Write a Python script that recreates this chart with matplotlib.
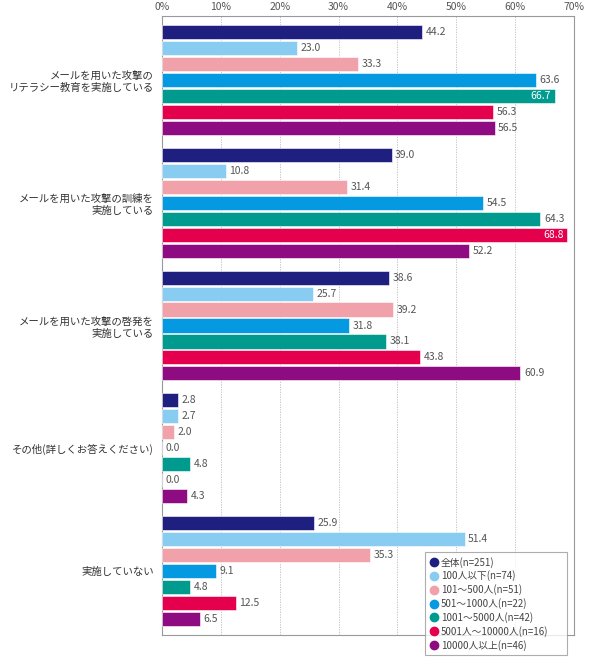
import matplotlib
matplotlib.use("Agg")
import matplotlib.pyplot as plt
from matplotlib.lines import Line2D

plt.rcParams['font.family'] = ['Noto Sans CJK JP', 'DejaVu Sans']

categories = [
    "メールを用いた攻撃の\nリテラシー教育を実施している",
    "メールを用いた攻撃の訓練を\n実施している",
    "メールを用いた攻撃の啓発を\n実施している",
    "その他(詳しくお答えください)",
    "実施していない",
]
series_names = [
    "全体(n=251)",
    "100人以下(n=74)",
    "101～500人(n=51)",
    "501～1000人(n=22)",
    "1001～5000人(n=42)",
    "5001人～10000人(n=16)",
    "10000人以上(n=46)",
]
values = [
    [44.2, 39.0, 38.6, 2.8, 25.9],
    [23.0, 10.8, 25.7, 2.7, 51.4],
    [33.3, 31.4, 39.2, 2.0, 35.3],
    [63.6, 54.5, 31.8, 0.0, 9.1],
    [66.7, 64.3, 38.1, 4.8, 4.8],
    [56.3, 68.8, 43.8, 0.0, 12.5],
    [56.5, 52.2, 60.9, 4.3, 6.5],
]
colors = ["#1f1f80", "#88cdf1", "#f1a1a9", "#0499e1", "#009a8e", "#e5004d", "#8f0b81"]
xticks = [0, 10, 20, 30, 40, 50, 60, 70]

fig = plt.figure(figsize=(5.9, 6.65), dpi=100)
ax = fig.add_axes([162/590, 1-635/665, (574-162)/590, (635-16)/665])

pitch = 7.6875
nser = len(series_names)
for j in range(nser):
    ys = [i*pitch + j for i in range(len(categories))]
    ax.barh(ys, values[j], height=0.88, color=colors[j], edgecolor='white', linewidth=0.4, zorder=3)
    for y, v in zip(ys, values[j]):
        if v > 65:
            ax.text(v - 0.6, y, f"{v:.1f}", ha='right', va='center', fontsize=7.5, color='white', zorder=4)
        else:
            ax.text(v + 0.6, y, f"{v:.1f}", ha='left', va='center', fontsize=7.5, color='#555555', zorder=4)

ax.set_xlim(0, 70)
ax.set_ylim(4*pitch + nser - 1 + 1, -1)
ax.set_xticks(xticks)
ax.set_xticklabels([f"{t}%" for t in xticks], fontsize=7.5, color='#555555')
ax.xaxis.tick_top()
ax.tick_params(axis='x', length=0, pad=3)
ax.set_yticks([i*pitch + 3 for i in range(len(categories))])
ax.set_yticklabels(categories, fontsize=7.5, color='#333333', linespacing=1.3)
ax.tick_params(axis='y', length=0, pad=6)
ax.grid(axis='x', linestyle=(0, (1.5, 1.5)), color='#bbbbbb', linewidth=0.6, zorder=0)
for s in ax.spines.values():
    s.set_color('#999999')
    s.set_linewidth(0.8)

handles = [Line2D([0], [0], marker='o', linestyle='none', markersize=6,
                  markerfacecolor=c, markeredgecolor=c) for c in colors]
leg = fig.legend(handles, series_names, loc='lower left',
                 bbox_to_anchor=(425/590, 1-655/665, (567-425)/590, (655-553)/665),
                 mode='expand', fontsize=7, frameon=True, fancybox=False,
                 handletextpad=0.2, labelspacing=0.3, borderpad=0.45,
                 handlelength=1.0, borderaxespad=0)
leg.get_frame().set_edgecolor('#999999')
leg.get_frame().set_linewidth(0.8)
for t in leg.get_texts():
    t.set_color('#444444')

fig.savefig("out.png", dpi=100)
